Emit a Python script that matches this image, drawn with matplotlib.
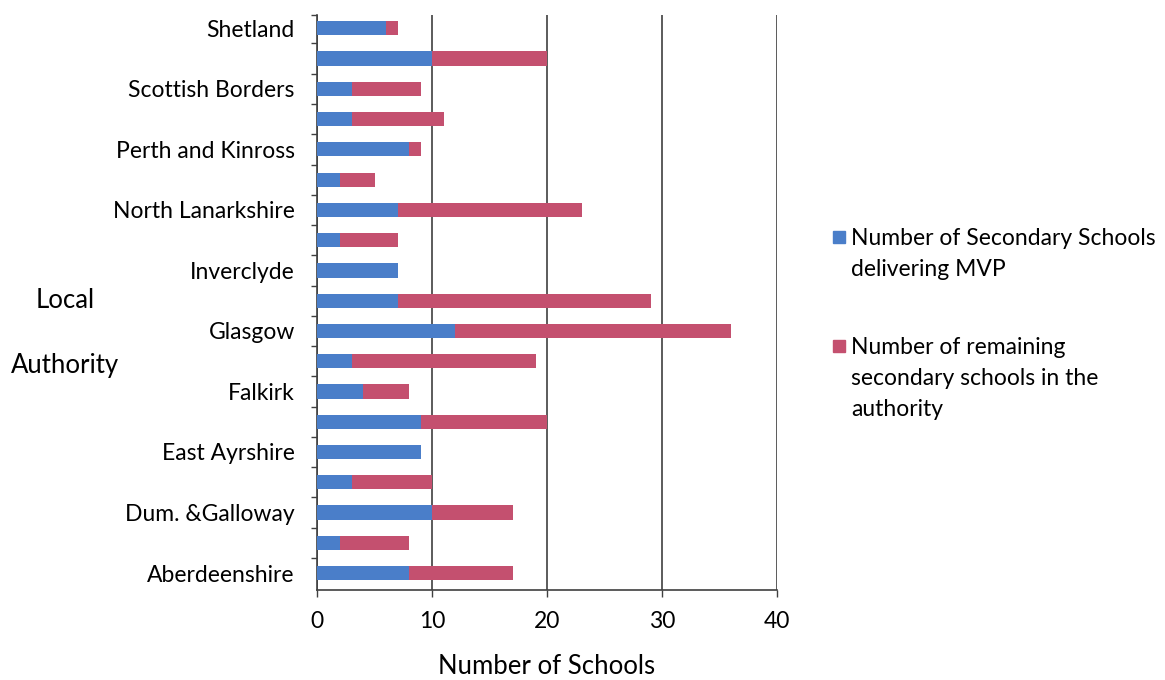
import numpy as np
import matplotlib.pyplot as plt
from matplotlib.patches import Rectangle

plt.rcParams['font.family'] = ['Lato', 'DejaVu Sans']

# authorities from bottom to top; only every other one is labelled on the axis
labels = ['Aberdeenshire', '', 'Dum. &Galloway', '', 'East Ayrshire', '',
          'Falkirk', '', 'Glasgow', '', 'Inverclyde', '', 'North Lanarkshire',
          '', 'Perth and Kinross', '', 'Scottish Borders', '', 'Shetland']
mvp = [8, 2, 10, 3, 9, 9, 4, 3, 12, 7, 7, 2, 7, 2, 8, 3, 3, 10, 6]
totals = [17, 8, 17, 10, 9, 20, 8, 19, 36, 29, 7, 7, 23, 5, 9, 11, 9, 20, 7]
remaining = [t - m for t, m in zip(totals, mvp)]

xticks = [0, 10, 20, 30, 40]

blue = '#4A7EC9'
pink = '#C4506F'

fig = plt.figure(figsize=(11.65, 6.8), dpi=100)
ax = fig.add_axes([317 / 1165, 90 / 680, 460 / 1165, 575 / 680])

pos = np.arange(len(labels))
ax.barh(pos, mvp, height=0.47, color=blue, zorder=3)
ax.barh(pos, remaining, left=mvp, height=0.47, color=pink, zorder=3)

ax.set_xlim(0, 40)
ax.set_ylim(-0.56, 18.44)
ax.set_xticks(xticks)
ax.tick_params(axis='x', length=5, width=1, color='#404040', pad=10, labelsize=16.5)
ax.set_yticks(pos)
ax.set_yticklabels(labels, fontsize=16.5)
ax.tick_params(axis='y', which='major', length=0, pad=16)
ax.set_yticks(list(pos[:-1] + 0.5) + [18.44], minor=True)
ax.tick_params(axis='y', which='minor', length=4, width=1, color='#404040')

ax.grid(axis='x', color='#404040', linewidth=1.2, zorder=0)
for side in ['top', 'right']:
    ax.spines[side].set_visible(False)
for side in ['left', 'bottom']:
    ax.spines[side].set_color('#404040')
    ax.spines[side].set_linewidth(1.2)

fig.text(65 / 1165, 1 - 301 / 680, 'Local', ha='center', va='center', fontsize=18.5)
fig.text(65 / 1165, 1 - 366 / 680, 'Authority', ha='center', va='center', fontsize=18.5)
fig.text(547 / 1165, 1 - 654 / 680, 'Number of Schools', ha='center', va='top', fontsize=18.5)

# legend drawn by hand so each swatch sits beside the first line of its label
legend_items = [(blue, 'Number of Secondary Schools\ndelivering MVP', 237),
                (pink, 'Number of remaining\nsecondary schools in the\nauthority', 346)]
for color, text, ypix in legend_items:
    fig.patches.append(Rectangle((833 / 1165, 1 - (ypix + 6) / 680), 12 / 1165, 12 / 680,
                                 transform=fig.transFigure, color=color))
    fig.text(851 / 1165, 1 - (ypix - 9) / 680, text, ha='left', va='top',
             fontsize=16.5, linespacing=1.6)

fig.savefig('out.png', dpi=100)
